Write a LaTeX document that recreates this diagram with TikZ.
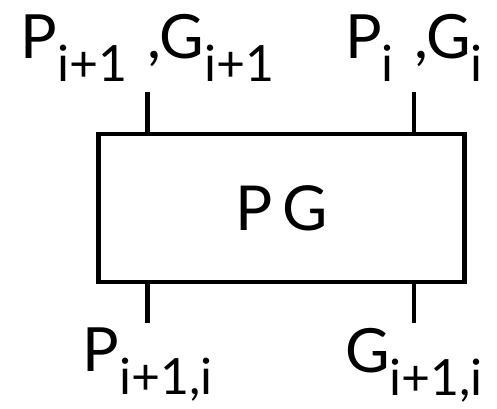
\documentclass[tikz,border=0pt]{standalone}
\usepackage{fontspec}
\setmainfont{Lato}
\usetikzlibrary{positioning,calc}

% subscript that stays nearly full size, as in the drawing
\newcommand{\lowsub}[1]{\raisebox{-23pt}{\fontsize{50}{52}\selectfont #1}}

\begin{document}
\begin{tikzpicture}[x=1pt, y=1pt,
    blk/.style={draw, line width=4.5pt, minimum width=366pt, minimum height=148pt, font=\fontsize{62}{64}\selectfont, inner sep=0pt},
    lbl/.style={font=\fontsize{61}{64}\selectfont, inner sep=0pt},
    wire/.style={line width=4.5pt}
]
\useasboundingbox (0,0) rectangle (497,408);
\node[blk] (pg) at (281.6,200.2) {P\,G};

\coordinate (inl) at (147.5,316);
\coordinate (inr) at (414,316);
\coordinate (outl) at (147.5,85);
\coordinate (outr) at (414,85);

\draw[wire] (inl) -- (inl |- pg.north);
\draw[wire] (inr) -- (inr |- pg.north);
\draw[wire] (pg.south -| outl) -- (outl);
\draw[wire] (pg.south -| outr) -- (outr);

\node[lbl, above=10pt of inl] (inlbl) {P\lowsub{i+1}\,\,,G\lowsub{i+1}};
\node[lbl, above=10pt of inr] (inrbl) {P\lowsub{i}\,\,,G\lowsub{i}};
\node[lbl, below=5pt of outl] (outlbl) {P\lowsub{i+1,i}};
\node[lbl, below=5pt of outr] (outrbl) {G\lowsub{i+1,i}};
\end{tikzpicture}
\end{document}
